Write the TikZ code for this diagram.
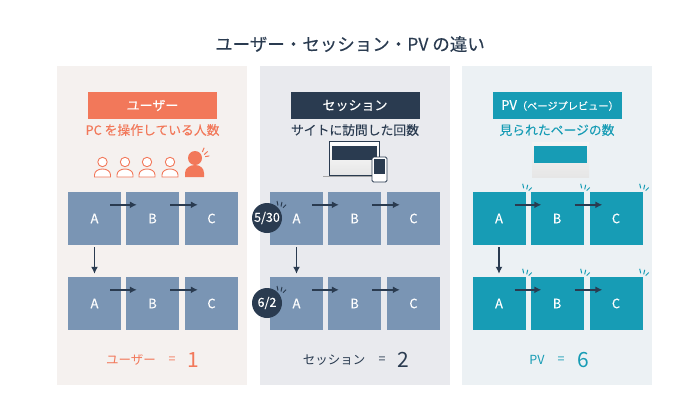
\documentclass[tikz,border=0pt]{standalone}
\usepackage{xcolor}
\usepackage{fontspec}
\usepackage{tikz}
\usetikzlibrary{arrows.meta}
\setmainfont[FakeBold=0.1]{Noto Sans CJK JP}
\newfontfamily\plainfont{Noto Sans CJK JP}
\definecolor{userC}{RGB}{242,120,90}
\definecolor{sessC}{RGB}{42,59,80}
\definecolor{pvC}{RGB}{23,156,181}
\definecolor{stepC}{RGB}{122,149,180}
\definecolor{userBg}{RGB}{245,241,239}
\definecolor{sessBg}{RGB}{233,234,238}
\definecolor{pvBg}{RGB}{236,241,244}
\definecolor{pageTop}{RGB}{244,244,244}
\definecolor{pageBot}{RGB}{230,230,230}
\tikzset{%
  >={Latex[width=7pt,length=7pt]},
  % Specifications for style of nodes:
  panel/.style = {rectangle, minimum width=190pt, minimum height=319pt, inner sep=0pt},
  head/.style = {rectangle, minimum width=129pt, minimum height=27pt, inner sep=0pt,
    text=white, font=\fontsize{13}{15}\selectfont},
  sub/.style = {inner sep=0pt, font=\fontsize{12.8}{15}\selectfont},
  stepbox/.style = {rectangle, minimum width=53pt, minimum height=53pt, inner sep=0pt,
    text=white, font=\fontsize{13}{15}\selectfont},
  badge/.style = {circle, fill=sessC, minimum size=30pt, inner sep=0pt,
    text=white, font=\fontsize{12.5}{14}\selectfont},
  result/.style = {inner sep=0pt, font=\plainfont\fontsize{12.5}{15}\selectfont},
  num/.style = {inner sep=0pt, font=\plainfont\fontsize{21}{23}\selectfont},
  flow/.style = {->, draw=sessC, line width=1.5pt},
  ticks/.pic = {
    \draw[line width=1pt, pic actions] (-3,-8) -- (-2,-3.5);
    \draw[line width=1pt, pic actions] (2,-7) -- (1,-2.5);
    \draw[line width=1pt, pic actions] (6,-4.3) -- (3,-1.3);
  },
  person/.pic = {
    \draw[pic actions, line width=0.9pt] (0,-15) circle (4.7);
    \draw[pic actions, line width=0.9pt] (-8,0) -- (-8,-2) .. controls (-8,-6) and (-4,-8) .. (0,-8)
      .. controls (4,-8) and (8,-6) .. (8,-2) -- (8,0) -- cycle;
  },
}
\begin{document}
\begin{tikzpicture}[x=1pt,y=-1pt]
  \useasboundingbox (0,0) rectangle (700,410);
  \fill[white] (0,0) rectangle (700,410);
  % Specification of nodes (position, etc.)
  \node(title)[inner sep=0pt, text=sessC, font=\fontsize{17.5}{20}\selectfont] at (350,44) {ユーザー・セッション・PV の違い};
  \node(userPanel)[panel, fill=userBg] at (152,225.5) {};
  \node(sessPanel)[panel, fill=sessBg] at (355,225.5) {};
  \node(pvPanel)[panel, fill=pvBg] at (557,225.5) {};
  \node(userHead)[head, fill=userC] at (152.5,105.5) {ユーザー};
  \node(sessHead)[head, fill=sessC] at (355,105.5) {セッション};
  \node(pvHead)[head, fill=pvC] at (557,105.5) {\hspace{6pt}PV{\fontsize{10.2}{14}\selectfont（ページプレビュー）}};
  \node(userSub)[sub, text=userC] at (152.5,130) {PC を操作している人数};
  \node(sessSub)[sub, text=sessC] at (355,130) {サイトに訪問した回数};
  \node(pvSub)[sub, text=pvC] at (557,130) {見られたページの数};
  % people
  \foreach \x in {102.5,125,147,170}
    \pic[draw=userC, fill=white] at (\x,177) {person};
  \fill[userC] (195,158) circle (7);
  \fill[userC] (185,177) -- (185,173) .. controls (185,168) and (190,165) .. (195,165)
    .. controls (200,165) and (204,168) .. (204,173) -- (204,177) -- cycle;
  \pic[draw=userC, rotate=-35] at (202,156) {ticks};
  % laptop and phone
  \draw[line width=0.8pt, draw=sessC, top color=white, bottom color=gray!20] (329,141) rectangle (379,175);
  \fill[sessC] (332,146) rectangle (377,160);
  \draw[line width=1pt, draw=gray!70] (323,176) -- (372,176);
  \draw[line width=0.8pt, draw=sessC, fill=white, rounded corners=1.5pt] (372,157) rectangle (387,182);
  \fill[sessC] (374,159) rectangle (385,174);
  % page
  \fill[top color=pageTop, bottom color=pageBot] (532,142) rectangle (589,177);
  \fill[pvC] (534,146) rectangle (587,163);
  % steps
  \foreach \p/\x/\c in {user/94.5/stepC, sess/296.5/stepC, pv/499/pvC}{
    \foreach \r/\y in {1/218.5, 2/303.5}{
      \node(\p A\r)[stepbox, fill=\c] at (\x,\y) {\raisebox{-1.5pt}{A}};
      \node(\p B\r)[stepbox, fill=\c] at (\x+58,\y) {\raisebox{-1.5pt}{B}};
      \node(\p C\r)[stepbox, fill=\c] at (\x+117,\y) {\raisebox{-1.5pt}{C}};
      \draw[flow]([xshift=-11pt,yshift=-13pt]\p A\r.north east) -- ([xshift=11pt,yshift=-13pt]\p B\r.north west);
      \draw[flow]([xshift=-9pt,yshift=-13pt]\p B\r.north east) -- ([xshift=13pt,yshift=-13pt]\p C\r.north west);
    }
    \draw[flow, shorten >=3pt, shorten <=2pt](\p A1.south) -- (\p A2.north);
  }
  % ticks on the pages seen
  \foreach \r in {1,2}{
    \pic[draw=pvC] at (pvA\r.north east) {ticks};
    \pic[draw=pvC] at (pvB\r.north east) {ticks};
    \pic[draw=pvC] at (pvC\r.north east) {ticks};
  }
  % entry times
  \pic[draw=sessC] at (280,209) {ticks};
  \pic[draw=sessC] at (280,294) {ticks};
  \node(firstVisit)[badge] at (267,218) {5/30};
  \node(secondVisit)[badge] at (267,303) {6/2};
  % totals
  \node(userText)[result, text=userC] at (131,360) {ユーザー};
  \node(userEq)[result, text=userC] at (172,360) {=};
  \node(userNum)[num, text=userC] at (193,360) {1};
  \node(sessText)[result, text=sessC] at (334,360) {セッション};
  \node(sessEq)[result, text=sessC] at (382,360) {=};
  \node(sessNum)[num, text=sessC] at (403,360) {2};
  \node(pvText)[result, text=pvC] at (537,360) {PV};
  \node(pvEq)[result, text=pvC] at (561,360) {=};
  \node(pvNum)[num, text=pvC] at (583,360) {6};
\end{tikzpicture}
\end{document}
